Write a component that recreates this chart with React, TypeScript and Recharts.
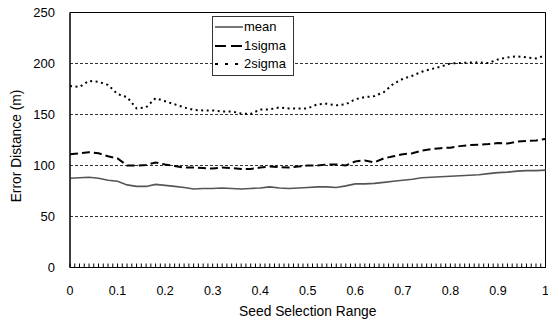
import React from "react";
import {
  LineChart,
  Line,
  XAxis,
  YAxis,
  CartesianGrid,
  ReferenceArea,
  Legend,
} from "recharts";

const xValues = [
  0, 0.02, 0.04, 0.06, 0.08, 0.1, 0.12, 0.14, 0.16, 0.18, 0.2, 0.22, 0.24, 0.26, 0.28, 0.3, 0.32,
  0.34, 0.36, 0.38, 0.4, 0.42, 0.44, 0.46, 0.48, 0.5, 0.52, 0.54, 0.56, 0.58, 0.6, 0.62, 0.64, 0.66,
  0.68, 0.7, 0.72, 0.74, 0.76, 0.78, 0.8, 0.82, 0.84, 0.86, 0.88, 0.9, 0.92, 0.94, 0.96, 0.98, 1,
];

const meanValues = [
  87.5, 88, 88.5, 87.5, 85.5, 84.5, 81, 79.5, 79.5, 81.5, 80.5, 79.5, 78.5, 77, 77.5, 77.5, 78,
  77.5, 77, 77.5, 78, 79, 78, 77.5, 78, 78.5, 79, 79, 78.5, 80, 82, 82, 82.5, 83.5, 84.5, 85.5, 86.5,
  88, 88.5, 89, 89.5, 90, 90.5, 91, 92, 93, 93.5, 94.5, 95, 95, 95.5,
];

const sigma1Values = [
  111, 112, 113, 112, 109, 107, 100, 100, 100.5, 103, 101, 99.5, 98, 98, 97.5, 97, 98, 97.5, 96.5,
  96.5, 98, 99, 98.5, 98, 99, 100, 100, 101, 101, 100, 104, 105, 103, 107, 109, 111, 112, 114.5, 116,
  117, 117.5, 119, 120, 120.5, 121, 122, 121.5, 123.5, 124, 124.5, 126,
];

const sigma2Values = [
  178, 177, 183, 182, 179, 170, 167, 156, 157, 166, 163, 160, 157, 154.5, 154, 154, 153, 153, 151,
  150.5, 155, 155, 157, 156, 156, 156, 160, 160.5, 159, 160, 165, 167, 168, 172, 180, 185, 188, 192,
  194.5, 197, 200, 200.5, 201, 201, 200.5, 204, 206, 207, 206, 205, 208,
];

const seriesNames = ["mean", "1sigma", "2sigma"];
const xTickLabels = ["0", "0.1", "0.2", "0.3", "0.4", "0.5", "0.6", "0.7", "0.8", "0.9", "1"];
const yTicks = [0, 50, 100, 150, 200, 250];
const xTitle = "Seed Selection Range";
const yTitle = "Error Distance (m)";

const data = xValues.map((x, i) => ({
  x,
  mean: meanValues[i],
  s1: sigma1Values[i],
  s2: sigma2Values[i],
}));

const minorTicks = Array.from({ length: 101 }, (_, i) => i / 100);

const FONT = "'Liberation Sans', Arial, sans-serif";

const styles = [
  { stroke: "#555555", dash: undefined as string | undefined, width: 1.6, legendDash: undefined as string | undefined },
  { stroke: "#000000", dash: "8 4", width: 2, legendDash: "11 5" },
  { stroke: "#000000", dash: "2 3.5", width: 2, legendDash: "3 7" },
];

const XTick = (props: any) => {
  const { x, y, payload } = props;
  const idx = Math.round(payload.value * 100);
  const lab = idx % 10 === 0 ? xTickLabels[idx / 10] : null;
  return (
    <g>
      <line x1={x} x2={x} y1={y} y2={y - 4} stroke="#000" strokeWidth={1} />
      {lab !== null && (
        <text x={x} y={y + 27.5} textAnchor="middle" fontSize={12.5} fill="#000" fontFamily={FONT}>
          {lab}
        </text>
      )}
    </g>
  );
};

const LegendBox = () => (
  <div
    style={{
      border: "1px solid #333",
      background: "#fff",
      padding: "1px 3px 1px 2px",
      fontFamily: FONT,
      fontSize: 13,
      color: "#000",
      lineHeight: "18.5px",
    }}
  >
    {seriesNames.map((n, i) => (
      <div key={n} style={{ display: "flex", alignItems: "center" }}>
        <svg width={28} height={10} style={{ marginRight: 1 }}>
          <line
            x1={0}
            x2={28}
            y1={5}
            y2={5}
            stroke={styles[i].stroke}
            strokeWidth={styles[i].width}
            strokeDasharray={styles[i].legendDash}
          />
        </svg>
        <span>{n}</span>
      </div>
    ))}
  </div>
);

export default function App() {
  return (
    <div style={{ position: "absolute", left: 0, top: 0, fontFamily: FONT, background: "#fff" }}>
      <LineChart
        width={548}
        height={324}
        data={data}
        margin={{ top: 12.5, right: 2.5, left: 0, bottom: 0 }}
      >
        <CartesianGrid
          horizontal={true}
          vertical={false}
          stroke="#000"
          strokeDasharray="3 2"
          strokeWidth={0.8}
        />
        <XAxis
          dataKey="x"
          type="number"
          domain={[0, 1]}
          ticks={minorTicks}
          interval={0}
          tickSize={0}
          tickMargin={0}
          tickLine={false}
          height={56.5}
          axisLine={{ stroke: "#000" }}
          tick={<XTick />}
          label={{
            content: (p: any) => {
              const vb = p.viewBox;
              return (
                <text
                  x={vb.x + vb.width / 2}
                  y={vb.y + 48.5}
                  textAnchor="middle"
                  fontSize={13.8}
                  fill="#000"
                  fontFamily={FONT}
                >
                  {xTitle}
                </text>
              );
            },
          }}
        />
        <YAxis
          type="number"
          domain={[0, 250]}
          ticks={yTicks}
          interval={0}
          width={70}
          tickSize={0}
          tickMargin={15}
          tickLine={false}
          axisLine={{ stroke: "#000" }}
          tick={{ fill: "#000", fontSize: 13, fontFamily: FONT }}
          label={{
            content: (p: any) => {
              const vb = p.viewBox;
              const cx = vb.x + 16.5;
              const cy = vb.y + vb.height / 2 + 6;
              return (
                <text
                  x={cx}
                  y={cy}
                  transform={`rotate(-90 ${cx} ${cy})`}
                  textAnchor="middle"
                  dominantBaseline="central"
                  fontSize={13.8}
                  fill="#000"
                  fontFamily={FONT}
                >
                  {yTitle}
                </text>
              );
            },
          }}
        />
        <ReferenceArea x1={0} x2={1} y1={0} y2={250} fill="none" stroke="#000" strokeWidth={1} />
        <Line
          dataKey="mean"
          name={seriesNames[0]}
          stroke={styles[0].stroke}
          strokeWidth={styles[0].width}
          dot={false}
          isAnimationActive={false}
        />
        <Line
          dataKey="s1"
          name={seriesNames[1]}
          stroke={styles[1].stroke}
          strokeWidth={styles[1].width}
          strokeDasharray={styles[1].dash}
          dot={false}
          isAnimationActive={false}
        />
        <Line
          dataKey="s2"
          name={seriesNames[2]}
          stroke={styles[2].stroke}
          strokeWidth={styles[2].width}
          strokeDasharray={styles[2].dash}
          dot={false}
          isAnimationActive={false}
        />
        <Legend
          layout="vertical"
          align="center"
          verticalAlign="middle"
          content={<LegendBox />}
          wrapperStyle={{ left: 212, top: 16, width: 82 }}
        />
      </LineChart>
    </div>
  );
}
